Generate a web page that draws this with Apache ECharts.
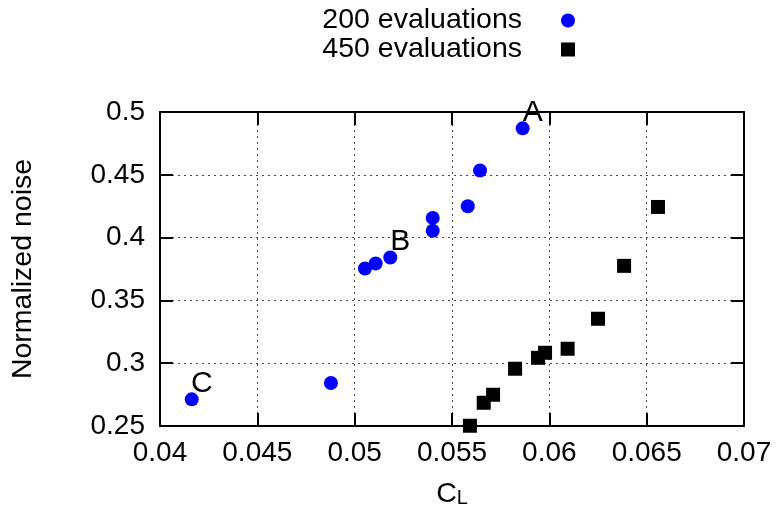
<!DOCTYPE html>
<html>
<head>
<meta charset="utf-8">
<script src="https://cdn.jsdelivr.net/npm/echarts@6/dist/echarts.min.js"></script>
<style>html,body{margin:0;padding:0;background:#fff}#c{width:779px;height:518px}</style>
</head>
<body>
<div id="c"></div>
<script>
const seriesNames = ['200 evaluations', '450 evaluations'];
const x200 = [0.04163, 0.04878, 0.05053, 0.05108, 0.05183, 0.05401, 0.05401, 0.05581, 0.05644, 0.05863];
const y200 = [0.2712, 0.2842, 0.3754, 0.3794, 0.3842, 0.4054, 0.4157, 0.4250, 0.4534, 0.4870];
const labels200 = ['C', '', '', '', 'B', '', '', '', '', 'A'];
const x450 = [0.05592, 0.05663, 0.05711, 0.05824, 0.05942, 0.05978, 0.06094, 0.06250, 0.06384, 0.06558];
const y450 = [0.2502, 0.2685, 0.2749, 0.2956, 0.3043, 0.3083, 0.3115, 0.3354, 0.3775, 0.4244];
const xTicks = [0.04, 0.045, 0.05, 0.055, 0.06, 0.065, 0.07];
const yTicks = [0.25, 0.3, 0.35, 0.4, 0.45, 0.5];

const FONT = 'Liberation Sans, Arial, sans-serif';
const chart = echarts.init(document.getElementById('c'), null, {renderer: 'canvas'});

const data200 = x200.map((x, i) => {
  const d = {value: [x, y200[i]]};
  if (labels200[i]) {
    d.label = {show: true, formatter: labels200[i], position: 'inside', offset: [10, -16],
      color: '#000', fontSize: 30, fontFamily: FONT};
  }
  return d;
});
const data450 = x450.map((x, i) => [x, y450[i]]);

const axisCommon = {
  type: 'value',
  axisLine: {show: true, lineStyle: {color: '#000', width: 2}},
  axisTick: {show: true, inside: true, length: 13, lineStyle: {color: '#000', width: 2}},
};

chart.setOption({
  animation: false,
  backgroundColor: '#fff',
  grid: {left: 160, right: 35, top: 112, bottom: 92, show: false},
  legend: {
    orient: 'vertical', right: 204, top: 6, padding: 0, itemGap: 0,
    align: 'right', itemWidth: 14, itemHeight: 14,
    data: [{name: seriesNames[0], icon: 'circle'}, {name: seriesNames[1], icon: 'rect'}],
    textStyle: {fontSize: 28.5, fontFamily: FONT, color: '#000', lineHeight: 28, padding: [0, 34, 0, 0]}
  },
  xAxis: [
    Object.assign({}, axisCommon, {
      min: xTicks[0], max: xTicks[xTicks.length - 1], interval: 0.005, position: 'bottom',
      axisLabel: {fontSize: 28, fontFamily: FONT, color: '#000', margin: 13,
        formatter: v => String(+v.toFixed(3))},
      splitLine: {show: true, lineStyle: {color: '#444', type: [2, 4], width: 1}},
      name: '{c|C}{l|L}', nameLocation: 'middle', nameGap: 50,
      nameTextStyle: {rich: {
        c: {fontSize: 28.5, fontFamily: FONT, color: '#000', lineHeight: 29, verticalAlign: 'top'},
        l: {fontSize: 20, fontFamily: FONT, color: '#000', lineHeight: 20, verticalAlign: 'bottom', padding: [17, 0, 0, 0]}
      }}
    }),
    Object.assign({}, axisCommon, {
      min: xTicks[0], max: xTicks[xTicks.length - 1], interval: 0.005, position: 'top',
      axisLabel: {show: false}, splitLine: {show: false}
    })
  ],
  yAxis: [
    Object.assign({}, axisCommon, {
      min: yTicks[0], max: yTicks[yTicks.length - 1], interval: 0.05, position: 'left',
      axisLabel: {fontSize: 28, fontFamily: FONT, color: '#000', margin: 15,
        formatter: v => String(+v.toFixed(3))},
      splitLine: {show: true, lineStyle: {color: '#444', type: [2, 4], width: 1}},
      name: 'Normalized noise', nameLocation: 'middle', nameGap: 122,
      nameTextStyle: {fontSize: 28.5, fontFamily: FONT, color: '#000'}
    }),
    Object.assign({}, axisCommon, {
      min: yTicks[0], max: yTicks[yTicks.length - 1], interval: 0.05, position: 'right',
      axisLabel: {show: false}, splitLine: {show: false}
    })
  ],
  series: [
    {name: seriesNames[0], type: 'scatter', symbol: 'circle', symbolSize: 14,
      itemStyle: {color: '#0000ff', opacity: 1}, data: data200, xAxisIndex: 0, yAxisIndex: 0, z: 3},
    {name: seriesNames[1], type: 'scatter', symbol: 'rect', symbolSize: 14,
      itemStyle: {color: '#000', opacity: 1}, data: data450, xAxisIndex: 0, yAxisIndex: 0, z: 3}
  ]
});
</script>
</body>
</html>
